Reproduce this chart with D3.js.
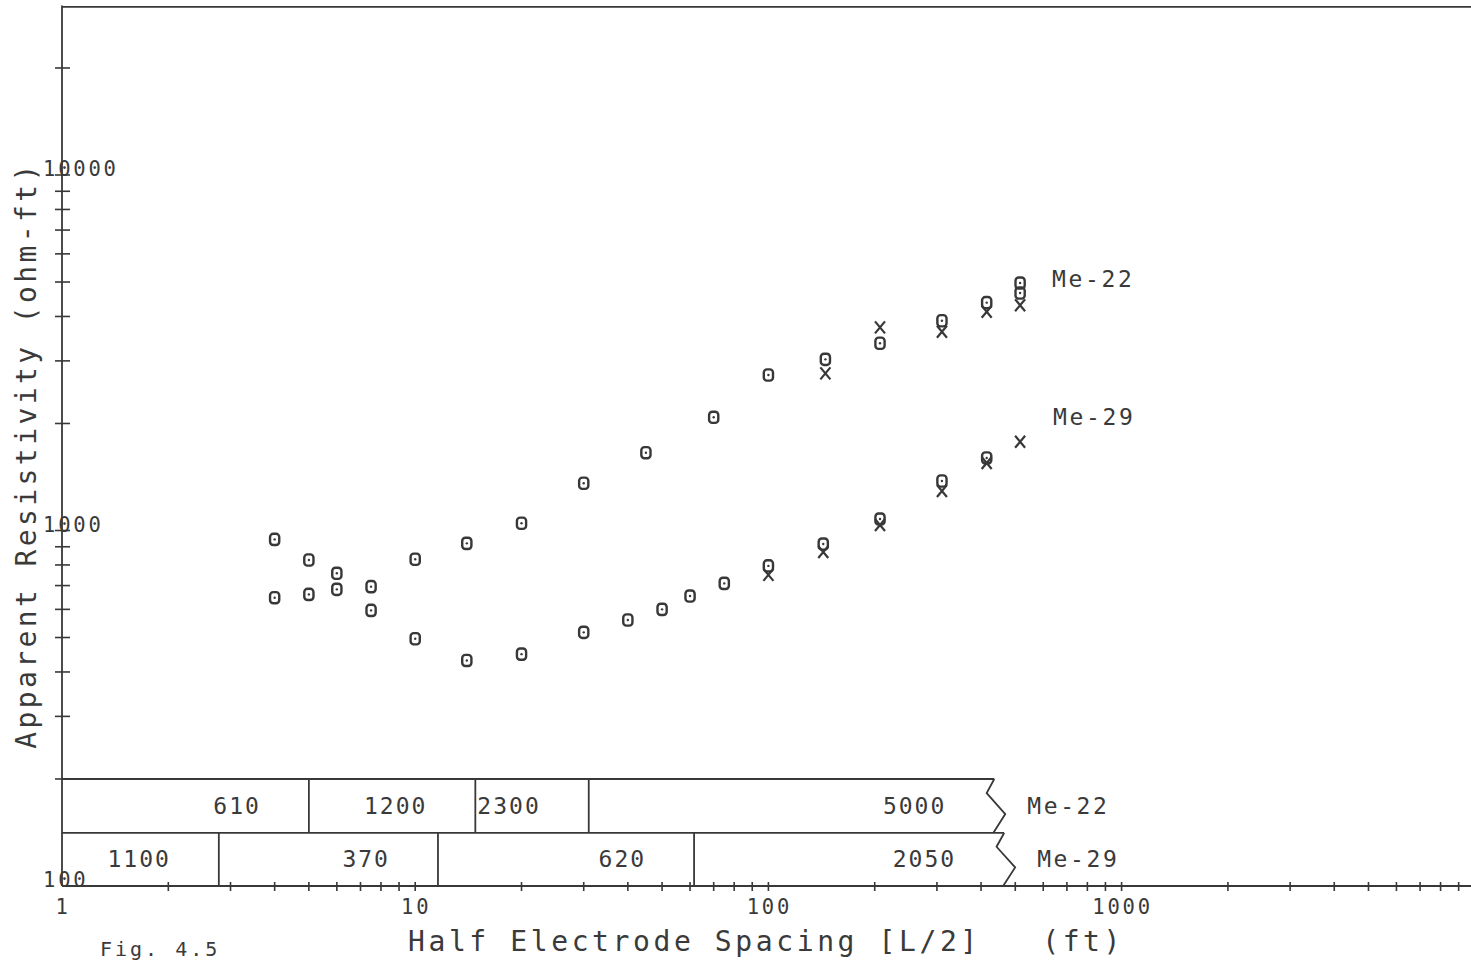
<!DOCTYPE html>
<html><head><meta charset="utf-8">
<script src="https://cdn.jsdelivr.net/npm/d3@7"></script>
<style>
html,body{margin:0;padding:0;background:#fff;overflow:hidden}
svg{display:block}
text{font-family:"DejaVu Sans Mono","Liberation Mono",monospace;fill:#3a3a3a}
</style></head><body>
<svg id="chart" width="1471" height="960"></svg>
<script>
// ---------------- data ----------------
// Me-22 sounding: circles (o) and crosses (x)
const spacing22 = [4,5,6,7.5,10,14,20,30,45,70,100,145,207,310,415,516,516];
const circ22    = [647,661,683,695,830,920,1048,1358,1655,2082,2738,3030,3363,3890,4374,4966,4656];
const crossSpacing22 = [145,207,310,415,516];
const cross22        = [2767,3728,3623,4126,4303];
// Me-29 sounding
const spacing29 = [4,5,6,7.5,10,14,20,30,40,50,60,75,100,143,207,310,415];
const circ29    = [944,826,758,596,496,431,449,517,560,600,654,710,795,916,1077,1378,1600];
const crossSpacing29 = [100,143,207,310,415,516];
const cross29        = [750,870,1036,1291,1549,1777];
const seriesNames = ["Me-22","Me-29"];
// Layered-earth interpretation (layer boundaries in ft, resistivity in ohm-ft)
const layerEdges22  = [1,5,14.8,31,436];
const layerValues22 = [610,1200,2300,5000];
const layerEdges29  = [1,2.78,11.6,61.6,465];
const layerValues29 = [1100,370,620,2050];
// tick labels
const xTickValues = [1,10,100,1000];
const xTickLabels = ["1","10","100","1000"];
const yTickValues = [100,1000,10000];
const yTickLabels = ["100","1000","10000"];
const xTitle = "Half Electrode Spacing [L/2]   (ft)";
const yTitle = "Apparent Resistivity (ohm-ft)";
const figLabel = "Fig. 4.5";

// ---------------- layout ----------------
const ink = "#383838";
const svg = d3.select("#chart");
const x = d3.scaleLog().domain([1, 10000]).range([62, 62 + 4 * 353.2]);
const y = d3.scaleLog().domain([100, 30000]).range([886, 886 - 355.5 * Math.log10(300)]);

// axes lines
svg.append("line").attr("x1", x(1)).attr("x2", 1471).attr("y1", y(100)).attr("y2", y(100))
  .attr("stroke", ink).attr("stroke-width", 1.8);
svg.append("line").attr("x1", x(1)).attr("x2", x(1)).attr("y1", y(30000)).attr("y2", y(100))
  .attr("stroke", ink).attr("stroke-width", 1.8);
svg.append("line").attr("x1", x(1)).attr("x2", 1471).attr("y1", y(30000) + 1.5).attr("y2", y(30000) + 1.5)
  .attr("stroke", ink).attr("stroke-width", 1.6);

// minor/major ticks
const xTicks = [];
for (let d = 1; d <= 1000; d *= 10) for (let m = 1; m <= 9; m++) xTicks.push(d * m);
xTicks.push(10000);
svg.append("g").selectAll("line").data(xTicks.filter(v => v > 1)).join("line")
  .attr("x1", d => x(d)).attr("x2", d => x(d))
  .attr("y1", y(100) - 4).attr("y2", y(100) + 5)
  .attr("stroke", ink).attr("stroke-width", 1.6);

const yTicks = [];
for (let d = 100; d <= 10000; d *= 10) for (let m = 1; m <= 9; m++) if (d * m <= 20000) yTicks.push(d * m);
svg.append("g").selectAll("line").data(yTicks.filter(v => v >= 200)).join("line")
  .attr("x1", x(1) - 7).attr("x2", x(1) + 8)
  .attr("y1", d => y(d)).attr("y2", d => y(d))
  .attr("stroke", ink).attr("stroke-width", 1.6);

// tick labels
svg.append("g").selectAll("text").data(xTickValues).join("text")
  .attr("x", d => x(d) + 1).attr("y", 914)
  .attr("text-anchor", "middle").attr("font-size", 20.5).attr("letter-spacing", 2.8)
  .text((d, i) => xTickLabels[i]);
svg.append("g").selectAll("text").data(yTickValues).join("text")
  .attr("x", 43).attr("y", d => y(d) + 1)
  .attr("font-size", 20.5).attr("letter-spacing", 2.8)
  .text((d, i) => yTickLabels[i]);

// axis titles
svg.append("text").attr("x", 408).attr("y", 951)
  .attr("font-size", 28).attr("letter-spacing", 3.6).attr("xml:space", "preserve")
  .style("white-space", "pre").text(xTitle);
svg.append("text").attr("transform", "translate(36," + 455 + ") rotate(-90)")
  .attr("text-anchor", "middle").attr("font-size", 28).attr("letter-spacing", 3.4)
  .text(yTitle);
svg.append("text").attr("x", 100).attr("y", 956).attr("font-size", 20).attr("letter-spacing", 3)
  .text(figLabel);

// ---------------- layer boxes ----------------
function layerRow(edges, values, top, bottom, name) {
  const g = svg.append("g");
  const yT = y(top), yB = y(bottom), h = yB - yT;
  const xe = x(edges[edges.length - 1]);
  g.append("line").attr("x1", x(edges[0])).attr("x2", xe).attr("y1", yT).attr("y2", yT)
    .attr("stroke", ink).attr("stroke-width", 1.8);
  g.append("path").attr("d", d3.line()([[xe, yT], [xe - 7.6, yT + 0.26 * h], [xe + 11, yT + 0.65 * h], [xe - 1, yB]]))
    .attr("fill", "none").attr("stroke", ink).attr("stroke-width", 1.8);
  g.selectAll("line.div").data(edges.slice(1, -1)).join("line")
    .attr("x1", d => x(d)).attr("x2", d => x(d)).attr("y1", yT).attr("y2", yB)
    .attr("stroke", ink).attr("stroke-width", 1.8);
  g.selectAll("text.val").data(values).join("text")
    .attr("x", (d, i) => x(edges[i + 1]) - 48).attr("y", (yT + yB) / 2)
    .attr("dominant-baseline", "central").attr("text-anchor", "end")
    .attr("font-size", 23).attr("letter-spacing", 2)
    .text(d => d);
  g.append("text").attr("x", xe + 33).attr("y", (yT + yB) / 2)
    .attr("dominant-baseline", "central").attr("font-size", 23).attr("letter-spacing", 2.6)
    .text(name);
}
layerRow(layerEdges22, layerValues22, 200, 141, seriesNames[0]);
layerRow(layerEdges29, layerValues29, 141, 100, seriesNames[1]);

// ---------------- markers ----------------
function circles(xs, vs) {
  const g = svg.append("g").selectAll("g").data(xs.map((s, i) => [s, vs[i]])).join("g")
    .attr("transform", d => "translate(" + x(d[0]) + "," + y(d[1]) + ")");
  g.append("rect").attr("x", -4.6).attr("y", -5.6).attr("width", 9.2).attr("height", 11.2).attr("rx", 3.2)
    .attr("fill", "none").attr("stroke", ink).attr("stroke-width", 2.4);
  g.append("circle").attr("r", 1.2).attr("fill", ink);
}
function crosses(xs, vs) {
  const g = svg.append("g").selectAll("g").data(xs.map((s, i) => [s, vs[i]])).join("g")
    .attr("transform", d => "translate(" + x(d[0]) + "," + y(d[1]) + ")");
  g.append("path").attr("d", "M-5,-6L5,6M5,-6L-5,6")
    .attr("fill", "none").attr("stroke", ink).attr("stroke-width", 2.2);
}
circles(spacing22, circ22);
crosses(crossSpacing22, cross22);
circles(spacing29, circ29);
crosses(crossSpacing29, cross29);

// series labels beside the curve ends
svg.append("text").attr("x", x(d3.max(spacing22)) + 32).attr("y", y(d3.max(circ22)) + 4)
  .attr("font-size", 23).attr("letter-spacing", 2.6).text(seriesNames[0]);
svg.append("text").attr("x", x(d3.max(crossSpacing29)) + 33).attr("y", y(d3.max(cross29)) - 17)
  .attr("font-size", 23).attr("letter-spacing", 2.6).text(seriesNames[1]);
</script>
</body></html>
